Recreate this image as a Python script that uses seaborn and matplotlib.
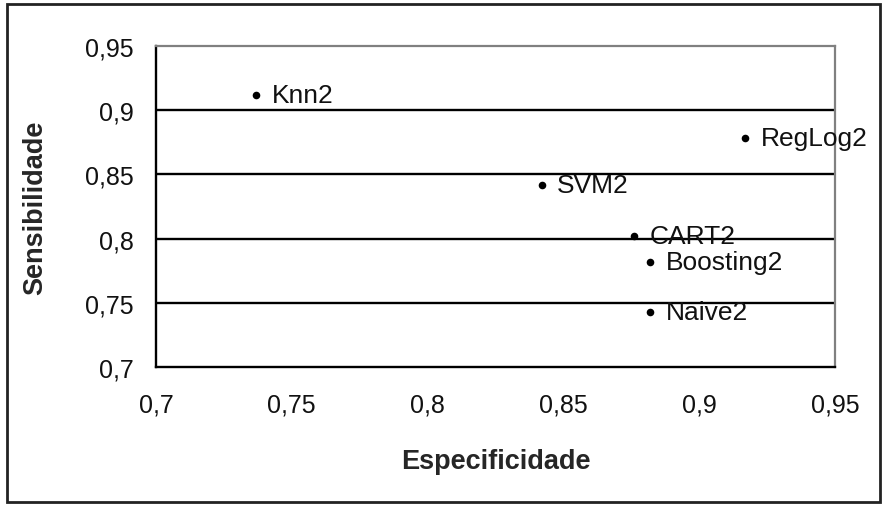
import pandas as pd
import matplotlib.pyplot as plt
import seaborn as sns
from matplotlib.patches import Rectangle

# -----------------------------------------
# Data
# -----------------------------------------
modelos = ['Knn2', 'RegLog2', 'SVM2', 'CART2', 'Boosting2', 'Naive2']
especificidade = [0.737, 0.917, 0.842, 0.876, 0.882, 0.882]
sensibilidade = [0.912, 0.878, 0.842, 0.802, 0.782, 0.743]
ticks = [0.7, 0.75, 0.8, 0.85, 0.9, 0.95]
tick_labels = ['0,7', '0,75', '0,8', '0,85', '0,9', '0,95']

df = pd.DataFrame({'modelo': modelos, 'esp': especificidade, 'sen': sensibilidade})

# -----------------------------------------
# Plot
# -----------------------------------------
sns.set_style('white')
plt.rcParams['font.family'] = ['Liberation Sans', 'DejaVu Sans']

fig = plt.figure(figsize=(8.82, 5.06), dpi=100)
ax = fig.add_axes([156 / 882, 1 - 368 / 506, (835 - 156) / 882, (368 - 47) / 506])

sns.scatterplot(data=df, x='esp', y='sen', ax=ax, color='black', marker='o',
                s=30, edgecolor='black', linewidth=0, zorder=3)

# point labels to the right of each marker
for _, r in df.iterrows():
    ax.annotate(r['modelo'], (r['esp'], r['sen']), xytext=(11, 0),
                textcoords='offset points', va='center', ha='left',
                fontsize=19, color='#111111', zorder=4, annotation_clip=False)

ax.set_xlim(0.7, 0.95)
ax.set_ylim(0.7, 0.95)
ax.set_xticks(ticks)
ax.set_xticklabels(tick_labels)
ax.set_yticks(ticks)
ax.set_yticklabels(tick_labels)
ax.tick_params(axis='both', direction='out', length=6, width=1.5, color='black',
               labelsize=18, labelcolor='#111111')
ax.tick_params(axis='x', pad=12)
ax.tick_params(axis='y', pad=10)

# horizontal gridlines like Excel
for t in ticks[1:-1]:
    ax.axhline(t, color='black', lw=1.7, zorder=1)

for s in ['left', 'bottom']:
    ax.spines[s].set_color('black')
    ax.spines[s].set_linewidth(1.7)
for s in ['top', 'right']:
    ax.spines[s].set_color('#808080')
    ax.spines[s].set_linewidth(1.6)

ax.set_xlabel('Especificidade', fontsize=19.5, fontweight='bold')
ax.set_ylabel('Sensibilidade', fontsize=19.5, fontweight='bold')
ax.xaxis.set_label_coords(0.5, -(462 - 368) / 321)
ax.yaxis.set_label_coords(-(156 - 35) / 679, 0.5)
ax.xaxis.label.set_va('center')
ax.yaxis.label.set_va('center')

# outer chart frame
fig.patches.append(Rectangle((7 / 882, 1 - 503 / 506), 873 / 882, 498 / 506,
                             transform=fig.transFigure, fill=False,
                             edgecolor='#222222', linewidth=2))

plt.savefig('out.png', dpi=100)
plt.close()
